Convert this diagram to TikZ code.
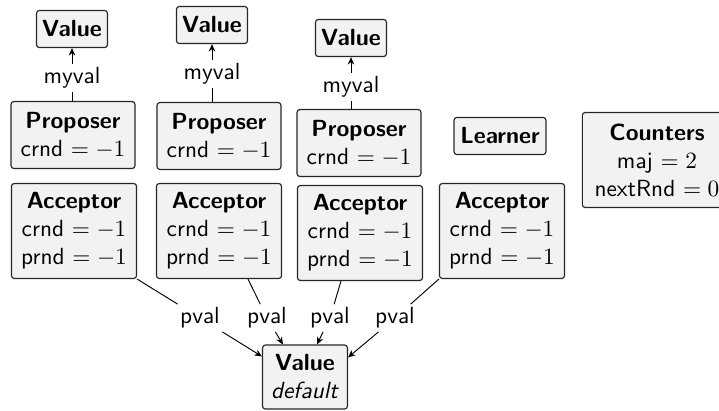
\documentclass[tikz,border=0pt]{standalone}
\usetikzlibrary{arrows.meta,calc}
\begin{document}
\begin{tikzpicture}[x=0.4286pt,y=-0.4286pt, font=\sffamily,
  box/.style={draw=black!85, fill=black!5, rounded corners=1.2pt, align=center, inner sep=1pt, line width=0.5pt},
  lbl/.style={fill=white, inner sep=1.3pt},
  arr/.style={-{Stealth[length=3.2pt,width=2.8pt]}, line width=0.4pt},
  ln/.style={line width=0.4pt}]
\useasboundingbox (0,0) rectangle (719,411);
% values
\node[box, minimum width=30.4pt, minimum height=15.9pt] (v1) at (72,29) {\textbf{Value}};
\node[box, minimum width=30.4pt, minimum height=15.9pt] (v2) at (212,25) {\textbf{Value}};
\node[box, minimum width=30.4pt, minimum height=15.9pt] (v3) at (351,38) {\textbf{Value}};
% proposers
\node[box, minimum width=53.1pt, minimum height=28.7pt] (p1) at (73,135) {\textbf{Proposer}\\ crnd $=-1$};
\node[box, minimum width=53.1pt, minimum height=28.7pt] (p2) at (219,136) {\textbf{Proposer}\\ crnd $=-1$};
\node[box, minimum width=53.1pt, minimum height=28.7pt] (p3) at (359,143) {\textbf{Proposer}\\ crnd $=-1$};
\node[box, minimum width=39.4pt, minimum height=15.9pt] (lr) at (500,136) {\textbf{Learner}};
\node[box, minimum width=64pt, minimum height=40.7pt] (ct) at (657,160) {\textbf{Counters}\\ maj $=2$\\ nextRnd $=0$};
% acceptors
\node[box, minimum width=53.6pt, minimum height=40.7pt] (a1) at (74,231) {\textbf{Acceptor}\\ crnd $=-1$\\ prnd $=-1$};
\node[box, minimum width=53.6pt, minimum height=40.7pt] (a2) at (219,231) {\textbf{Acceptor}\\ crnd $=-1$\\ prnd $=-1$};
\node[box, minimum width=53.6pt, minimum height=40.7pt] (a3) at (360,233) {\textbf{Acceptor}\\ crnd $=-1$\\ prnd $=-1$};
\node[box, minimum width=53.6pt, minimum height=40.7pt] (a4) at (502,231) {\textbf{Acceptor}\\ crnd $=-1$\\ prnd $=-1$};
\node[box, minimum width=36.4pt, minimum height=27.4pt] (vd) at (305,377) {\textbf{Value}\\ \textit{default}};
% myval edges
\node[lbl] (m1) at (72,78) {myval};
\node[lbl] (m2) at (212,74) {myval};
\node[lbl] (m3) at (351,87) {myval};
\draw[ln] (v1 |- p1.north) -- (m1);
\draw[arr] (m1) -- (v1.south);
\draw[ln] (v2 |- p2.north) -- (m2);
\draw[arr] (m2) -- (v2.south);
\draw[ln] (v3 |- p3.north) -- (m3);
\draw[arr] (m3) -- (v3.south);
% pval edges
\node[lbl] (l1) at (200,318) {pval};
\node[lbl] (l2) at (267,318) {pval};
\node[lbl] (l3) at (330,318) {pval};
\node[lbl] (l4) at (395,318) {pval};
\draw[ln] (a1.south east) -- (l1);
\draw[arr] (l1) -- ($(vd.north west)+(0,12)$);
\draw[ln] ($(a2.south)+(29,0)$) -- (l2);
\draw[arr] (l2) -- ($(vd.north west)+(21,0)$);
\draw[ln] ($(a3.south)+(-19,0)$) -- (l3);
\draw[arr] (l3) -- ($(vd.north west)+(55,0)$);
\draw[ln] (a4.south west) -- (l4);
\draw[arr] (l4) -- ($(vd.north east)+(0,13)$);
\end{tikzpicture}
\end{document}
